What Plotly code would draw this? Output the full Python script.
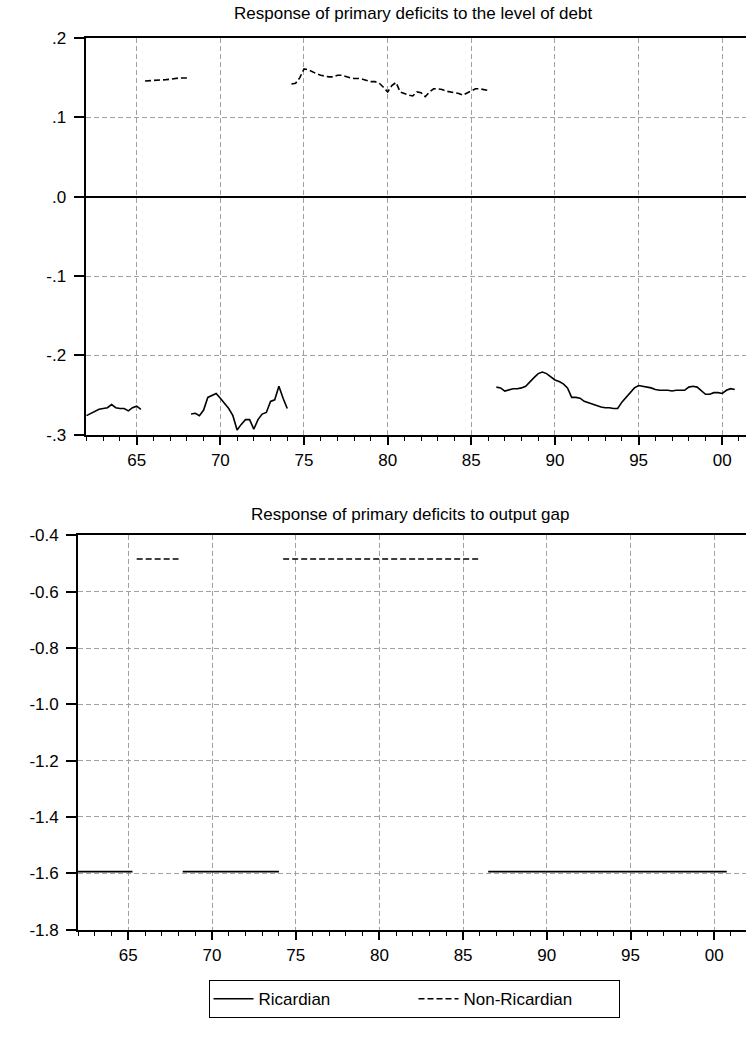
import plotly.graph_objects as go

W, H = 746, 1040

# ---------------- data ----------------
# regime periods (first quarter, last quarter)
RIC_PERIODS = [("1962Q1", "1965Q2"), ("1968Q2", "1974Q1"), ("1986Q3", "2000Q4")]
NONRIC_PERIODS = [("1965Q3", "1968Q1"), ("1974Q2", "1986Q1")]

# response to the level of debt (quarterly, within each regime period)
RIC_DEBT_1 = [-0.276, -0.273, -0.271, -0.268, -0.267, -0.266, -0.262, -0.266,
              -0.267, -0.267, -0.270, -0.266, -0.264, -0.268]
RIC_DEBT_2 = [-0.274, -0.273, -0.276, -0.269, -0.253, -0.250, -0.248, -0.254,
              -0.260, -0.267, -0.276, -0.294, -0.287, -0.281, -0.281, -0.293,
              -0.281, -0.274, -0.272, -0.258, -0.256, -0.239, -0.254, -0.267]
RIC_DEBT_3 = [-0.240, -0.241,
              -0.245, -0.243, -0.242, -0.242,
              -0.241, -0.239, -0.233, -0.228,
              -0.223, -0.221, -0.223, -0.227,
              -0.231, -0.233, -0.236, -0.241,
              -0.253, -0.253, -0.254, -0.258,
              -0.260, -0.261, -0.263, -0.265,
              -0.266, -0.266, -0.267, -0.267,
              -0.259, -0.253, -0.247, -0.241,
              -0.238, -0.239, -0.240, -0.241,
              -0.243, -0.244, -0.244, -0.244,
              -0.245, -0.244, -0.244, -0.244,
              -0.240, -0.239, -0.240, -0.245,
              -0.249, -0.249, -0.247, -0.247,
              -0.248, -0.244, -0.242, -0.243]
NONRIC_DEBT_1 = [0.1458, 0.146, 0.146, 0.1465, 0.147, 0.1475, 0.148, 0.149,
                 0.1495, 0.1496, 0.1496]
NONRIC_DEBT_2 = [0.142, 0.143, 0.150,
                 0.161, 0.160, 0.157, 0.155,
                 0.153, 0.152, 0.151, 0.151,
                 0.153, 0.153, 0.151, 0.150,
                 0.149, 0.149, 0.148, 0.146,
                 0.145, 0.145, 0.143, 0.138,
                 0.132, 0.140, 0.144, 0.132,
                 0.130, 0.128, 0.127, 0.132,
                 0.131, 0.126, 0.132, 0.136,
                 0.136, 0.135, 0.133, 0.132,
                 0.131, 0.130, 0.128, 0.131,
                 0.134, 0.136, 0.136, 0.135,
                 0.134]
RIC_DEBT = [RIC_DEBT_1, RIC_DEBT_2, RIC_DEBT_3]
NONRIC_DEBT = [NONRIC_DEBT_1, NONRIC_DEBT_2]

# response to output gap (regime coefficients)
RIC_GAP = -1.594
NONRIC_GAP = -0.484

YEAR_TICKS = [1965, 1970, 1975, 1980, 1985, 1990, 1995, 2000]
YEAR_LABELS = ["65", "70", "75", "80", "85", "90", "95", "00"]
Y1_TICKS = [-0.3, -0.2, -0.1, 0.0, 0.1, 0.2]
Y1_LABELS = ["-.3", "-.2", "-.1", ".0", ".1", ".2"]
Y2_TICKS = [-1.8, -1.6, -1.4, -1.2, -1.0, -0.8, -0.6, -0.4]
Y2_LABELS = ["-1.8", "-1.6", "-1.4", "-1.2", "-1.0", "-0.8", "-0.6", "-0.4"]

TITLE1 = "Response of primary deficits to the level of debt"
TITLE2 = "Response of primary deficits to output gap"
NAMES = ["Ricardian", "Non-Ricardian"]


def qpos(q):
    y, n = q.split("Q")
    return int(y) + (int(n) - 1) / 4.0


def series_from_segments(periods, segs):
    xs, ys = [], []
    for (a, _b), vals in zip(periods, segs):
        start = qpos(a)
        for i, v in enumerate(vals):
            xs.append(start + i * 0.25)
            ys.append(v)
        xs.append(None)
        ys.append(None)
    return xs, ys


def const_segments(periods, value):
    xs, ys = [], []
    for a, b in periods:
        xs += [qpos(a), qpos(b), None]
        ys += [value, value, None]
    return xs, ys


FONT = "Liberation Sans, Arial, sans-serif"
DASH = "6px,3px"
LW = 1.6

fig = go.Figure()

x, y = series_from_segments(RIC_PERIODS, RIC_DEBT)
fig.add_trace(go.Scatter(x=x, y=y, mode="lines", name=NAMES[0], legendgroup="r",
                         line=dict(color="black", width=LW), xaxis="x", yaxis="y",
                         connectgaps=False))
x, y = series_from_segments(NONRIC_PERIODS, NONRIC_DEBT)
fig.add_trace(go.Scatter(x=x, y=y, mode="lines", name=NAMES[1], legendgroup="n",
                         line=dict(color="black", width=LW, dash=DASH), xaxis="x", yaxis="y",
                         connectgaps=False))
x, y = const_segments(RIC_PERIODS, RIC_GAP)
fig.add_trace(go.Scatter(x=x, y=y, mode="lines", name=NAMES[0], legendgroup="r", showlegend=False,
                         line=dict(color="black", width=LW), xaxis="x2", yaxis="y2",
                         connectgaps=False))
x, y = const_segments(NONRIC_PERIODS, NONRIC_GAP)
fig.add_trace(go.Scatter(x=x, y=y, mode="lines", name=NAMES[1], legendgroup="n", showlegend=False,
                         line=dict(color="black", width=LW, dash=DASH), xaxis="x2", yaxis="y2",
                         connectgaps=False))

GRID = dict(showgrid=True, gridcolor="#a0a0a0", gridwidth=1, griddash="5px,3px")


def xaxis(domain, rng, anchor):
    return dict(domain=domain, range=rng, anchor=anchor, tickmode="array",
                tickvals=YEAR_TICKS, ticktext=YEAR_LABELS, ticks="outside",
                ticklen=9, tickwidth=1.5, tickcolor="black",
                minor=dict(tickmode="linear", tick0=1962, dtick=1, ticks="outside",
                           ticklen=5, tickwidth=1.2, tickcolor="black", showgrid=False),
                showline=True, linecolor="black", linewidth=1.5, mirror=True,
                zeroline=False, automargin=False,
                tickfont=dict(family=FONT, size=17, color="black"),
                **GRID)


def yaxis(domain, rng, anchor, tv, tt, zl):
    return dict(domain=domain, range=rng, anchor=anchor, tickmode="array",
                tickvals=tv, ticktext=tt, ticks="outside", ticklen=10, tickwidth=1.5,
                tickcolor="black", showline=True, linecolor="black", linewidth=1.8,
                mirror=False, zeroline=zl, zerolinecolor="black", zerolinewidth=1.5,
                ticklabelstandoff=4, automargin=False,
                tickfont=dict(family=FONT, size=17, color="black"), **GRID)


fig.update_layout(
    width=W, height=H,
    margin=dict(l=0, r=0, t=0, b=0, autoexpand=False),
    paper_bgcolor="white", plot_bgcolor="white",
    xaxis=xaxis([85.5 / W, 1.0], [1961.94, 2001.42], "y"),
    yaxis=yaxis([1 - 434.7 / H, 1 - 38.0 / H], [-0.3, 0.2], "x", Y1_TICKS, Y1_LABELS, True),
    xaxis2=xaxis([78.0 / W, 1.0], [1961.995, 2001.9], "y2"),
    yaxis2=yaxis([1 - 929.6 / H, 1 - 535.4 / H], [-1.8, -0.4], "x2", Y2_TICKS, Y2_LABELS, False),
    showlegend=True,
    legend=dict(orientation="h", x=414.5 / W, xanchor="center", y=1 - 999 / H, yanchor="middle",
                xref="paper", yref="paper", bordercolor="black", borderwidth=1.2,
                bgcolor="white", font=dict(family=FONT, size=17, color="black"),
                entrywidth=150, entrywidthmode="pixels", itemwidth=40),
    annotations=[
        dict(text=TITLE1, x=413 / W, y=1 - 14 / H, xref="paper", yref="paper",
             showarrow=False, xanchor="center", yanchor="middle",
             font=dict(family=FONT, size=17, color="black")),
        dict(text=TITLE2, x=410 / W, y=1 - 514 / H, xref="paper", yref="paper",
             showarrow=False, xanchor="center", yanchor="middle",
             font=dict(family=FONT, size=17, color="black")),
    ],
)

fig.write_html("out.html")
